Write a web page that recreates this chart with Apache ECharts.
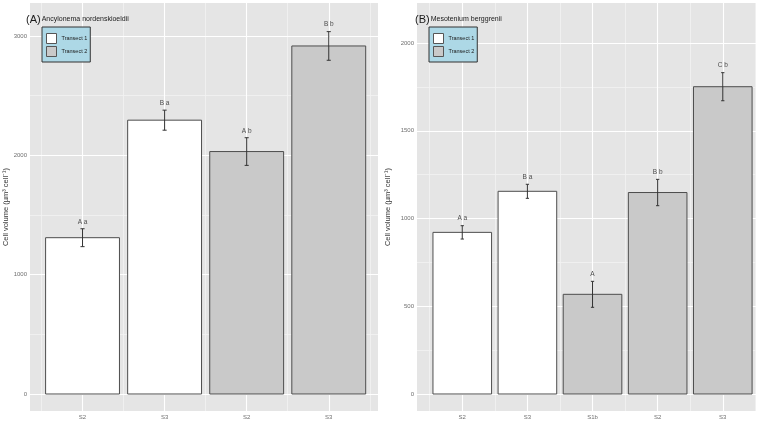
<!DOCTYPE html>
<html>
<head>
<meta charset="utf-8">
<script src="https://cdn.jsdelivr.net/npm/echarts@6/dist/echarts.min.js"></script>
<style>
html,body{margin:0;padding:0;background:#fff;}
#chart{width:769px;height:423px;}
</style>
</head>
<body>
<div id="chart"></div>
<script>
// ---- data ----
const leftCategories = ['S2', 'S3', 'S2', 'S3'];
const leftTransect = [1, 1, 2, 2];
const leftMeans = [1310, 2295, 2032, 2917];
const leftErrors = [75, 84, 116, 120];
const leftLetters = ['A a', 'B a', 'A b', 'B b'];
const leftYTicks = [0, 1000, 2000, 3000];
const leftYMinor = [500, 1500, 2500];

const rightCategories = ['S2', 'S3', 'S1b', 'S2', 'S3'];
const rightTransect = [1, 1, 2, 2, 2];
const rightMeans = [921, 1155, 568, 1148, 1751];
const rightErrors = [38, 40, 74, 75, 80];
const rightLetters = ['A a', 'B a', 'A', 'B b', 'C b'];
const rightYTicks = [0, 500, 1000, 1500, 2000];
const rightYMinor = [250, 750, 1250, 1750];

const transectNames = ['Transect 1', 'Transect 2'];
const leftTitleTag = '(A)';
const leftTitleName = 'Ancylonema nordenskioeldii';
const rightTitleTag = '(B)';
const rightTitleName = 'Mesotenium berggrenii';
const yAxisTitle = 'Cell volume (µm³ cell⁻¹)';

// ---- styles ----
const FONT = '"Liberation Sans", Arial, sans-serif';
const fills = ['#FFFFFF', '#C9C9C9'];
const barStroke = '#4D4D4D';
const errColor = '#333333';
const panelBg = '#E5E5E5';
const majorLine = {color: '#FFFFFF', width: 1.1, type: 'solid'};
const minorLine = {color: '#F2F2F2', width: 0.8, type: 'solid'};

function makeRender(letters) {
  return function (params, api) {
    const x = api.value(0), m = api.value(1), e = api.value(2), idx = api.value(3);
    const bw = api.size([0.9, 0])[0];
    const cw = api.size([0.05, 0])[0] / 2;
    const top = api.coord([x, m]);
    const base = api.coord([x, 0]);
    const et = api.coord([x, m + e]);
    const eb = api.coord([x, m - e]);
    return {
      type: 'group',
      children: [
        {type: 'rect', shape: {x: top[0] - bw / 2, y: top[1], width: bw, height: base[1] - top[1]},
         style: {fill: api.visual('color'), stroke: barStroke, lineWidth: 1}},
        {type: 'line', shape: {x1: et[0], y1: et[1], x2: eb[0], y2: eb[1]}, style: {stroke: errColor, lineWidth: 1}},
        {type: 'line', shape: {x1: et[0] - cw, y1: et[1], x2: et[0] + cw, y2: et[1]}, style: {stroke: errColor, lineWidth: 1}},
        {type: 'line', shape: {x1: eb[0] - cw, y1: eb[1], x2: eb[0] + cw, y2: eb[1]}, style: {stroke: errColor, lineWidth: 1}},
        {type: 'text', style: {text: letters[idx], x: et[0], y: et[1] - 7, align: 'center', verticalAlign: 'middle',
          fontSize: 6.5, fontFamily: FONT, fill: '#4D4D4D'}}
      ]
    };
  };
}

function panelSeries(gi, means, errors, transect, letters, nCats, yMajor, yMinor) {
  const out = [];
  const ml = [];
  for (let i = -0.5; i <= nCats - 0.5; i += 1) ml.push({xAxis: i, lineStyle: minorLine});
  yMinor.forEach(v => ml.push({yAxis: v, lineStyle: minorLine}));
  for (let i = 0; i < nCats; i++) ml.push({xAxis: i, lineStyle: majorLine});
  yMajor.forEach(v => ml.push({yAxis: v, lineStyle: majorLine}));
  out.push({
    type: 'line', xAxisIndex: gi, yAxisIndex: gi, data: [], z: 1, silent: true,
    markLine: {z: 1, silent: true, symbol: ['none', 'none'], label: {show: false}, animation: false,
      emphasis: {disabled: true}, data: ml}
  });
  transectNames.forEach((name, t) => {
    const data = [];
    means.forEach((m, i) => { if (transect[i] === t + 1) data.push([i, m, errors[i], i]); });
    out.push({
      type: 'custom', name: name, xAxisIndex: gi, yAxisIndex: gi, z: 10,
      itemStyle: {color: fills[t]},
      renderItem: makeRender(letters), data: data, animation: false
    });
  });
  return out;
}

function xAxis(gi, cats, min, max) {
  return {
    type: 'value', gridIndex: gi, min: min, max: max,
    axisLine: {show: false}, splitLine: {show: false},
    axisTick: {show: true, length: 2.5, lineStyle: {color: '#7F7F7F', width: 1}, customValues: cats.map((c, i) => i)},
    axisLabel: {customValues: cats.map((c, i) => i), formatter: v => cats[Math.round(v)], fontSize: 6, color: '#6F6F6F', fontFamily: FONT, margin: 3}
  };
}
function yAxis(gi, ticks, min, max, gap) {
  return {
    type: 'value', gridIndex: gi, min: min, max: max,
    name: yAxisTitle, nameLocation: 'middle', nameGap: gap, nameRotate: 90,
    nameTextStyle: {fontSize: 7.5, color: '#333333', fontFamily: FONT},
    axisLine: {show: false}, splitLine: {show: false},
    axisTick: {show: true, length: 2.5, lineStyle: {color: '#7F7F7F', width: 1}, customValues: ticks},
    axisLabel: {customValues: ticks, formatter: v => String(Math.round(v)), fontSize: 6, color: '#6F6F6F', fontFamily: FONT, margin: 3}
  };
}
function legend(left) {
  return {
    orient: 'vertical', left: left, top: 27, selectedMode: false,
    backgroundColor: '#ADD8E6', borderColor: '#333333', borderWidth: 1, borderRadius: 0,
    padding: [6, 3, 5, 4], itemWidth: 10, itemHeight: 10, itemGap: 2,
    textStyle: {fontSize: 5.5, color: '#1A1A1A', fontFamily: FONT},
    data: [
      {name: transectNames[0], icon: 'rect', itemStyle: {color: fills[0], borderColor: '#555', borderWidth: 1}},
      {name: transectNames[1], icon: 'rect', itemStyle: {color: fills[1], borderColor: '#555', borderWidth: 1}}
    ]
  };
}
function title(left, tag, name) {
  return {
    text: '{a|' + tag + '}{b|' + name + '}', left: left, top: 14, padding: 0,
    textStyle: {fontWeight: 'normal', rich: {
      a: {fontSize: 11, fontWeight: 'normal', color: '#1A1A1A', fontFamily: FONT},
      b: {fontSize: 7, fontWeight: 'normal', color: '#1A1A1A', fontFamily: FONT, padding: [0, 0, 0, 1]}
    }}
  };
}

const chart = echarts.init(document.getElementById('chart'), null, {renderer: 'canvas'});
chart.setOption({
  animation: false,
  backgroundColor: '#FFFFFF',
  title: [title(26, leftTitleTag, leftTitleName), title(415, rightTitleTag, rightTitleName)],
  legend: [legend(42), legend(429)],
  grid: [
    {left: 30, top: 3, width: 348, height: 408, show: true, backgroundColor: panelBg, borderWidth: 0},
    {left: 417, top: 3, width: 339, height: 408, show: true, backgroundColor: panelBg, borderWidth: 0}
  ],
  xAxis: [xAxis(0, leftCategories, -0.64, 3.6), xAxis(1, rightCategories, -0.695, 4.51)],
  yAxis: [yAxis(0, leftYTicks, -142.5, 3277, 16), yAxis(1, rightYTicks, -96.9, 2228, 25)],
  series: [].concat(
    panelSeries(0, leftMeans, leftErrors, leftTransect, leftLetters, leftCategories.length, leftYTicks, leftYMinor),
    panelSeries(1, rightMeans, rightErrors, rightTransect, rightLetters, rightCategories.length, rightYTicks, rightYMinor)
  )
});
</script>
</body>
</html>
